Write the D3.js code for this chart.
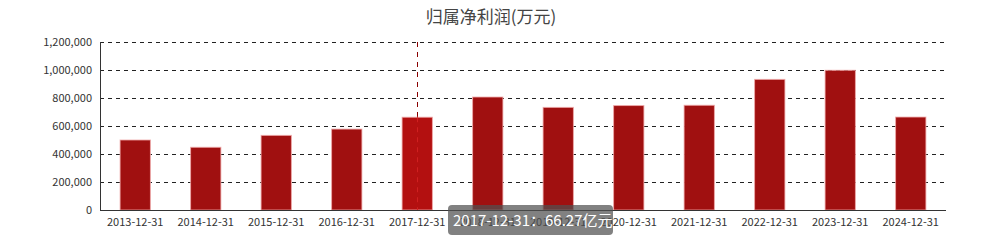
<!doctype html>
<html>
<head>
  <meta charset="utf-8">
  <title>归属净利润</title>
  <script src="https://d3js.org/d3.v7.min.js"></script>
  <style>
    body { margin: 0; background: #fff; }
    * { font-family: "Microsoft YaHei", "Noto Sans CJK SC", sans-serif; }
  </style>
</head>
<body>
  <svg width="982" height="251"></svg>
  <script>
    var categories = ["2013-12-31", "2014-12-31", "2015-12-31", "2016-12-31", "2017-12-31", "2018-12-31",
      "2019-12-31", "2020-12-31", "2021-12-31", "2022-12-31", "2023-12-31", "2024-12-31"];
    var profit = [500000, 448000, 533000, 578000, 662700, 807000, 733000, 746000, 748000, 933000, 998000, 664000];
    var yTicks = [0, 200000, 400000, 600000, 800000, 1000000, 1200000];
    var hoverIndex = 4;

    drawChart();

    function drawChart() {
      var svg = d3.select("svg");
      var left = 100, right = 946, plotTop = 42, bottom = 210;

      var x = d3.scaleBand().domain(categories).range([left, right]).paddingInner(0.57).paddingOuter(0.285);
      var y = d3.scaleLinear().domain([0, 1200000]).range([bottom, plotTop]);

      svg.append("text")
        .attr("x", 491).attr("y", 23)
        .attr("text-anchor", "middle")
        .style("font-size", "17px").style("fill", "#444")
        .text("归属净利润(万元)");

      // grid
      svg.append("g").selectAll("line")
        .data(yTicks.slice(1))
        .enter().append("line")
        .attr("x1", left).attr("x2", right)
        .attr("y1", d => y(d) + 0.5).attr("y2", d => y(d) + 0.5)
        .style("stroke", "#222").style("stroke-dasharray", "4,4");

      // y labels
      svg.append("g").selectAll("text")
        .data(yTicks)
        .enter().append("text")
        .attr("x", left - 8).attr("y", d => y(d) + 4)
        .attr("text-anchor", "end")
        .style("font-size", "11px").style("fill", "#333")
        .text(d => d3.format(",")(d));

      // hover line
      var cx = Math.round(x(categories[hoverIndex]) + x.bandwidth() / 2) + 0.5;
      svg.append("line")
        .attr("x1", cx).attr("x2", cx).attr("y1", plotTop).attr("y2", bottom)
        .style("stroke", "#8a0000").style("stroke-dasharray", "5,5");

      svg.append("g").selectAll("rect")
        .data(profit)
        .enter().append("rect")
        .attr("x", (d, i) => x(categories[i]))
        .attr("y", d => y(d))
        .attr("width", x.bandwidth())
        .attr("height", d => bottom - y(d))
        .style("fill", (d, i) => i == hoverIndex ? "#b31010" : "#a01010")
        .style("stroke", "rgba(240,170,170,0.8)")
        .style("stroke-width", 1);

      // hover line again, over the bar
      svg.append("line")
        .attr("x1", cx).attr("x2", cx).attr("y1", y(profit[hoverIndex])).attr("y2", bottom)
        .style("stroke", "#d02020").style("stroke-dasharray", "5,5");

      // axes
      svg.append("line").attr("x1", left + 0.5).attr("x2", left + 0.5).attr("y1", plotTop).attr("y2", bottom)
        .style("stroke", "#333");
      svg.append("line").attr("x1", left).attr("x2", right).attr("y1", bottom + 0.5).attr("y2", bottom + 0.5)
        .style("stroke", "#333");

      svg.append("g").selectAll("text")
        .data(categories)
        .enter().append("text")
        .attr("x", d => x(d) + x.bandwidth() / 2).attr("y", 226)
        .attr("text-anchor", "middle")
        .style("font-size", "11px").style("fill", "#333")
        .text(d => d);

      // tooltip
      var tip = svg.append("g").attr("transform", "translate(448,205)");
      tip.append("rect")
        .attr("width", 165).attr("height", 30).attr("rx", 4)
        .style("fill", "rgba(80,80,80,0.72)");
      tip.append("text")
        .attr("x", 5).attr("y", 21)
        .style("font-size", "15px").style("fill", "#fff")
        .text(categories[hoverIndex] + "：" + (profit[hoverIndex] / 10000).toFixed(2) + "亿元");
    }
  </script>
</body>
</html>
